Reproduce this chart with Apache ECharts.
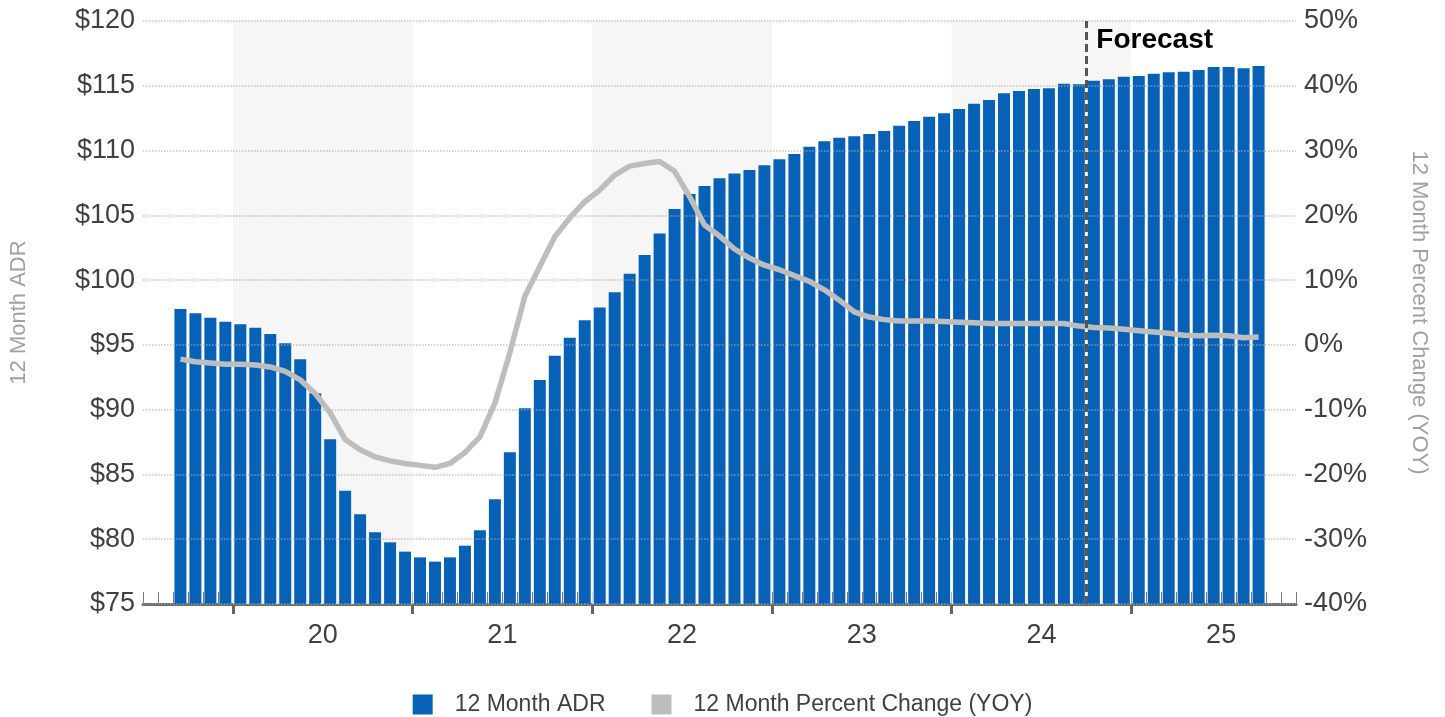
<!DOCTYPE html>
<html>
<head>
<meta charset="utf-8">
<script src="https://cdn.jsdelivr.net/npm/echarts@6/dist/echarts.min.js"></script>
<style>
html, body { margin: 0; padding: 0; background: #fff; }
#main { width: 1445px; height: 717px; }
</style>
</head>
<body>
<div id="main"></div>
<script>
// axis runs Jul 2019 .. Nov 2025, one slot per month
var axisStart = [2019, 7];
var monthCount = 77;
var yearLabels = ['20', '21', '22', '23', '24', '25'];
var shadedYears = [2020, 2022, 2024];
var firstMonth = '2019-09';
var forecastMonth = '2024-10';

// 12 month ADR, Sep 2019 .. Sep 2025
var adr = [
  97.77, 97.44, 97.10, 96.79,
  96.60, 96.33, 95.84, 95.12, 93.89, 91.26, 87.71, 83.75, 81.92, 80.53, 79.76, 79.04,
  78.60, 78.27, 78.60, 79.50, 80.69, 83.08, 86.72, 90.10, 92.29, 94.17, 95.56, 96.90,
  97.88, 99.06, 100.50, 101.94, 103.60, 105.49, 106.65, 107.27, 107.86, 108.23, 108.50, 108.86,
  109.32, 109.73, 110.30, 110.71, 110.99, 111.10, 111.28, 111.51, 111.92, 112.28, 112.61, 112.87,
  113.21, 113.62, 113.90, 114.42, 114.60, 114.75, 114.80, 115.16, 115.11, 115.39, 115.50, 115.70,
  115.75, 115.93, 116.04, 116.09, 116.22, 116.45, 116.45, 116.35, 116.53
];
// 12 month percent change (YOY)
var yoy = [
  -2.2, -2.6, -2.8, -3.0,
  -3.0, -3.1, -3.4, -4.1, -5.4, -7.5, -10.5, -14.6, -16.2, -17.3, -17.9, -18.3,
  -18.6, -18.9, -18.3, -16.6, -14.2, -9.0, -1.2, 7.5, 12.1, 16.7, 19.6, 22.1,
  23.9, 26.2, 27.6, 28.0, 28.3, 26.8, 22.9, 18.5, 16.8, 14.8, 13.4, 12.3,
  11.6, 10.7, 9.8, 8.5, 6.9, 5.1, 4.3, 3.9, 3.7, 3.7, 3.7, 3.6,
  3.5, 3.4, 3.3, 3.3, 3.3, 3.3, 3.3, 3.3, 2.9, 2.7, 2.6, 2.4,
  2.2, 2.0, 1.8, 1.5, 1.4, 1.5, 1.4, 1.1, 1.2
];

var months = [];
for (var i = 0; i < monthCount; i++) {
  var m = axisStart[1] - 1 + i;
  var mm = m % 12 + 1;
  months.push((axisStart[0] + Math.floor(m / 12)) + '-' + (mm < 10 ? '0' + mm : mm));
}
function padSeries(arr) {
  var out = [];
  var off = months.indexOf(firstMonth);
  for (var i = 0; i < months.length; i++) {
    var v = arr[i - off];
    out.push(v === undefined ? null : v);
  }
  return out;
}
var yearStarts = [], yearMids = [], yearText = {};
for (var k = 0; k < yearLabels.length; k++) {
  var s = months.indexOf((2000 + +yearLabels[k]) + '-01');
  yearStarts.push(s);
  yearMids.push(s + 6);
  yearText[s + 6] = yearLabels[k];
}
var areas = shadedYears.map(function (y) {
  var s = months.indexOf(y + '-01');
  return [{ xAxis: s }, { xAxis: s + 12 }];
});
var forecastPos = months.indexOf(forecastMonth);

var myChart = echarts.init(document.getElementById('main'));
var labelColor = '#404040';
var option = {
  animation: false,
  textStyle: { fontFamily: '"Liberation Sans", Arial, sans-serif' },
  grid: { left: 142, right: 149, top: 21, bottom: 113 },
  legend: {
    top: 688,
    left: 'center',
    itemWidth: 20,
    itemHeight: 20,
    itemGap: 46,
    icon: 'rect',
    textStyle: { fontSize: 23, color: labelColor, padding: [0, 0, 0, 17] },
    data: ['12 Month ADR', '12 Month Percent Change (YOY)']
  },
  xAxis: [
    {
      type: 'category',
      data: months,
      boundaryGap: true,
      axisLine: { onZero: false, lineStyle: { color: '#6a6a6a', width: 3 } },
      axisTick: { show: true, inside: true, length: 12, interval: 0, lineStyle: { color: '#7a7a7a', width: 1 } },
      axisLabel: { show: false },
      splitLine: { show: false }
    },
    {
      type: 'value',
      min: 0,
      max: monthCount,
      position: 'bottom',
      axisLine: { show: false, onZero: false },
      axisTick: { show: true, length: 10, customValues: yearStarts, lineStyle: { color: '#666', width: 3 } },
      axisLabel: {
        show: true, customValues: yearMids, fontSize: 27, color: labelColor, margin: 18,
        formatter: function (v) { return yearText[v] || ''; }
      },
      splitLine: { show: false }
    }
  ],
  yAxis: [
    {
      type: 'value',
      min: 75, max: 120, interval: 5,
      z: 3,
      name: '12 Month ADR',
      nameLocation: 'middle',
      nameGap: 113,
      nameTextStyle: { fontSize: 22, color: '#a0a0a0' },
      axisLine: { show: false, onZero: false },
      axisTick: { show: false },
      axisLabel: { fontSize: 27, color: labelColor, margin: 8, formatter: function (v) { return '$' + v; } },
      splitLine: { lineStyle: { color: 'rgba(170,170,170,0.7)', type: 'dotted', width: 1.5 } }
    },
    {
      type: 'value',
      min: -40, max: 50, interval: 10,
      position: 'right',
      name: '12 Month Percent Change (YOY)',
      nameLocation: 'middle',
      nameRotate: -90,
      nameGap: 112,
      nameTextStyle: { fontSize: 22, color: '#a0a0a0' },
      axisLine: { show: false, onZero: false },
      axisTick: { show: false },
      axisLabel: { fontSize: 27, color: labelColor, margin: 8, formatter: function (v) { return v + '%'; } },
      splitLine: { show: false }
    }
  ],
  series: [
    {
      type: 'line',
      xAxisIndex: 1,
      yAxisIndex: 0,
      z: 1,
      silent: true,
      data: [],
      markArea: { silent: true, itemStyle: { color: '#f6f6f6' }, data: areas }
    },
    {
      name: '12 Month ADR',
      type: 'bar',
      xAxisIndex: 0,
      yAxisIndex: 0,
      barCategoryGap: '20%',
      itemStyle: { color: '#0762b7' },
      data: padSeries(adr)
    },
    {
      name: '12 Month Percent Change (YOY)',
      type: 'line',
      xAxisIndex: 0,
      yAxisIndex: 1,
      symbol: 'none',
      itemStyle: { color: '#bdbdbd' },
      lineStyle: { color: '#bdbdbd', width: 5.5 },
      data: padSeries(yoy)
    },
    {
      type: 'line',
      xAxisIndex: 1,
      yAxisIndex: 0,
      z: 5,
      silent: true,
      data: [],
      markLine: {
        silent: true,
        symbol: 'none',
        label: { show: false },
        lineStyle: { color: '#555', type: [8, 4], width: 3 },
        data: [{ xAxis: forecastPos }]
      },
      markPoint: {
        silent: true,
        symbol: 'circle',
        symbolSize: 0,
        label: {
          show: true, position: 'right', distance: 10, formatter: 'Forecast',
          fontSize: 28, fontWeight: 'bold', color: '#000'
        },
        data: [{ coord: [forecastPos, 118.55] }]
      }
    }
  ]
};
myChart.setOption(option);
</script>
</body>
</html>
